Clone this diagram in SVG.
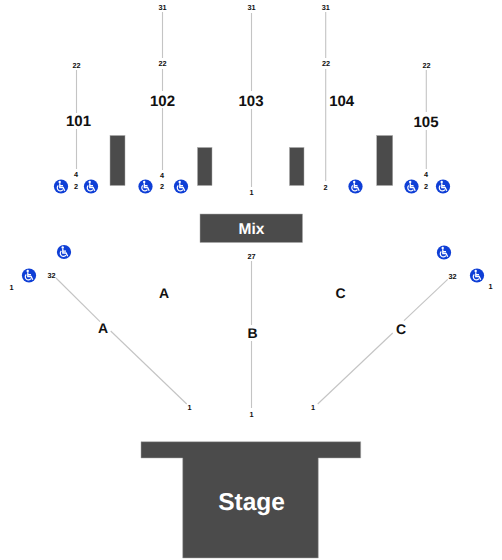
<svg xmlns="http://www.w3.org/2000/svg" width="502" height="560" viewBox="0 0 502 560">
<style>
text{font-family:"Liberation Sans",Arial,sans-serif;font-weight:700;text-anchor:middle;fill:#111;text-rendering:geometricPrecision}
.s{font-size:7.3px}
.m{font-size:15px}
.l{font-size:14px}
.w{fill:#fff}
.block{fill:#4b4b4b;stroke:#aaa;stroke-width:.5}
#connectors line{stroke:#c4c4c4;stroke-width:1.1}
</style>
<defs>
<g id="wc">
<circle r="7.100" fill="#0f3fd6"/>
<circle cx="-1.300" cy="-4.500" r="1.200" fill="#fff"/>
<path d="M-1.200-3.200V1H2.100L3.700 4.300M-1.200-.9H2" fill="none" stroke="#fff" stroke-width="1.300"/>
<path d="M-2.700-1A3.100 3.100 0 1 0 1.900 3.100" fill="none" stroke="#fff" stroke-width="1.200"/>
</g>
</defs>
<g id="connectors">
<line x1="76.500" y1="70" x2="76.500" y2="113"/><line x1="76.500" y1="129" x2="76.500" y2="169"/>
<line x1="162.500" y1="12" x2="162.500" y2="58"/><line x1="162.500" y1="69" x2="162.500" y2="91"/><line x1="162.500" y1="108" x2="162.500" y2="170"/>
<line x1="251.500" y1="13" x2="251.500" y2="91"/><line x1="251.500" y1="109" x2="251.500" y2="187"/>
<line x1="325.700" y1="12" x2="325.700" y2="58"/><line x1="325.700" y1="69" x2="325.700" y2="181"/>
<line x1="426.300" y1="70" x2="426.300" y2="112"/><line x1="426.300" y1="130" x2="426.300" y2="169"/>
<line x1="251.500" y1="261" x2="251.500" y2="325"/><line x1="251.500" y1="341" x2="251.500" y2="408"/>
<line x1="56" y1="278" x2="100" y2="321.700"/><line x1="110.700" y1="331" x2="186.700" y2="404"/>
<line x1="447.700" y1="279.300" x2="404" y2="320.700"/><line x1="392.700" y1="333" x2="317.700" y2="404"/>
</g>
<g id="stage"><path class="block" d="M141 441.700H360.700V458H318.300V558H182.700V458H141Z"/><text class="w" x="251.500" y="509.500" style="font-size:24.500px">Stage</text></g>
<g id="mix"><rect class="block" x="200" y="214" width="102.500" height="28.500"/><text class="w" x="251.500" y="234" style="font-size:15.500px">Mix</text></g>
<g id="pillars">
<rect class="block" x="110" y="135.500" width="15" height="50"/>
<rect class="block" x="197.500" y="147.500" width="14.500" height="38"/>
<rect class="block" x="289.500" y="147.500" width="14.500" height="38"/>
<rect class="block" x="376.700" y="135.500" width="16" height="50"/>
</g>
<g id="section-101"><text class="m" x="78.500" y="126">101</text><text class="s" x="76.500" y="67.500">22</text><text class="s" x="76" y="177">4</text><text class="s" x="76" y="189">2</text></g>
<g id="section-102"><text class="m" x="162.500" y="105.500">102</text><text class="s" x="162.500" y="9.500">31</text><text class="s" x="162.500" y="66">22</text><text class="s" x="162" y="177.500">4</text><text class="s" x="162" y="189">2</text></g>
<g id="section-103"><text class="m" x="251" y="105.500">103</text><text class="s" x="251.500" y="9.500">31</text><text class="s" x="251.500" y="195">1</text></g>
<g id="section-104"><text class="m" x="341.700" y="105.500">104</text><text class="s" x="325.700" y="9.500">31</text><text class="s" x="326" y="66">22</text><text class="s" x="325.500" y="190">2</text></g>
<g id="section-105"><text class="m" x="426" y="126.500">105</text><text class="s" x="426.500" y="67.500">22</text><text class="s" x="426" y="177">4</text><text class="s" x="426" y="188.500">2</text></g>
<g id="section-A"><text class="l" x="164" y="298">A</text><text class="l" x="103" y="332.500">A</text><text class="s" x="51.500" y="278">32</text><text class="s" x="11.500" y="289.500">1</text><text class="s" x="189.500" y="410">1</text></g>
<g id="section-B"><text class="l" x="252.500" y="338">B</text><text class="s" x="251.500" y="258.500">27</text><text class="s" x="251.500" y="416.500">1</text></g>
<g id="section-C"><text class="l" x="340.500" y="297.500">C</text><text class="l" x="401" y="334">C</text><text class="s" x="452.500" y="279">32</text><text class="s" x="490.500" y="289">1</text><text class="s" x="313" y="410">1</text></g>
<g id="accessible">
<use href="#wc" x="61" y="186.500"/><use href="#wc" x="91" y="186.500"/><use href="#wc" x="145.500" y="186.500"/><use href="#wc" x="181" y="186.500"/>
<use href="#wc" x="355.500" y="186.500"/><use href="#wc" x="411.500" y="186.500"/><use href="#wc" x="443" y="186.500"/>
<use href="#wc" x="64" y="252"/><use href="#wc" x="29" y="275.500"/><use href="#wc" x="444" y="252.500"/><use href="#wc" x="477" y="275.500"/>
</g>
</svg>
